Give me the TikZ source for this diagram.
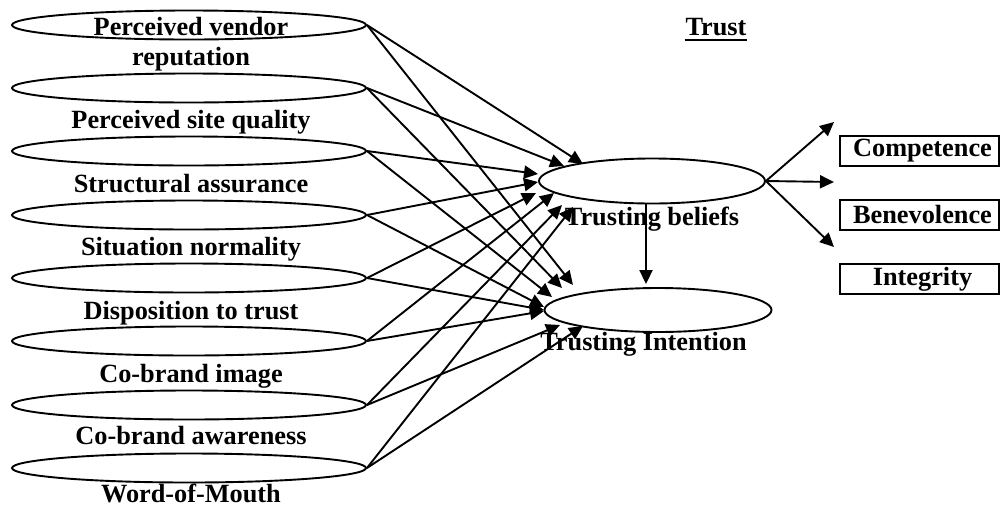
\documentclass[tikz,border=0pt]{standalone}
\usepackage{fontspec}
\setmainfont{Liberation Serif}
\usetikzlibrary{arrows.meta,calc,shapes.geometric}

\begin{document}
\begin{tikzpicture}[x=1pt,y=-1pt,
  line width=1.9pt,
  construct/.style={draw, ellipse, minimum width=354pt, minimum height=29pt, inner sep=0pt},
  trustell/.style={draw, ellipse, minimum width=226pt, minimum height=45pt, inner sep=0pt},
  lbl/.style={font=\fontsize{26.3}{30}\selectfont\bfseries, inner sep=0pt, anchor=base},
  dimbox/.style={draw, line width=2pt, minimum width=159pt, minimum height=30pt, inner sep=0pt,
                 font=\fontsize{26.3}{30}\selectfont\bfseries},
  arr/.style={-{Triangle[length=14pt,width=13pt]}}
]
\useasboundingbox (0,0) rectangle (1001,507);

% antecedent constructs
\foreach \i/\y in {1/25,2/88,3/151,4/215,5/278,6/341,7/405,8/468}
  \node[construct] (e\i) at (189,\y) {};

\node[lbl, align=center] (l1) at (191,65) {Perceived vendor\\reputation};
\node[lbl] (l2) at (191,128) {Perceived site quality};
\node[lbl] (l3) at (191,192) {Structural assurance};
\node[lbl] (l4) at (191,255) {Situation normality};
\node[lbl] (l5) at (191,319) {Disposition to trust};
\node[lbl] (l6) at (191,382) {Co-brand image};
\node[lbl] (l7) at (191,444) {Co-brand awareness};
\node[lbl] (l8) at (191,502) {Word-of-Mouth};

% trust constructs
\node[trustell] (tb) at (652,181) {};
\node[trustell, minimum width=227pt, minimum height=44pt] (ti) at (658,310) {};

% dimensions of trusting beliefs
\node[dimbox] (comp)  at (919.5,150.5) {\hspace{6pt}Competence};
\node[dimbox] (benev) at (919.5,214.5) {\hspace{6pt}Benevolence};
\node[dimbox] (integ) at (919.5,279) {\hspace{6pt}Integrity};

\coordinate (c1) at (834,122);
\coordinate (c2) at (834,182);
\coordinate (c3) at (834,247);

% paths from each antecedent to beliefs and intention
\foreach \i/\bx/\by/\ix/\iy in {1/-69/-17/-85/-25, 2/-88/-15/-96/-22, 3/-114/-7/-106/-13,
    4/-114/1/-114/-3, 5/-116/12/-114/0, 6/-98/12/-114/1, 7/-90/24/-98/15, 8/-79/26/-75/16} {
  \draw[arr] (e\i.east) -- ($(tb)+(\bx,\by)$);
  \draw[arr] (e\i.east) -- ($(ti)+(\ix,\iy)$);
}

\draw[arr] ($(tb.south)+(-6,0)$) -- ($(ti.north)+(-12,-3)$);
\draw[arr] (tb.east) -- (c1);
\draw[arr] (tb.east) -- (c2);
\draw[arr] (tb.east) -- (c3);

% labels
\node[lbl] (trust) at (716,35) {Trust};
\draw[line width=1.8pt] ($(trust.base west)+(0,5)$) -- ($(trust.base east)+(0,5)$);
\node[lbl] (tbl) at (652,225) {Trusting beliefs};
\node[lbl] (til) at (643.5,350) {Trusting Intention};
\end{tikzpicture}
\end{document}
